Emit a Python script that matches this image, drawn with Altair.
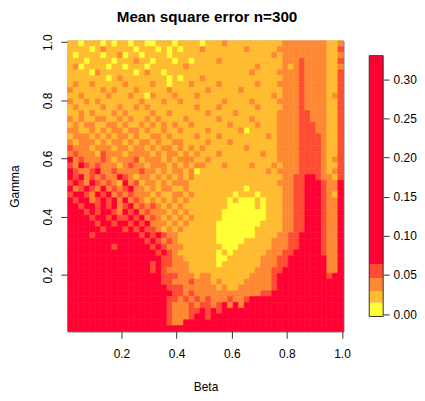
import altair as alt
import pandas as pd

# colour class of each cell (0 yellow ... 4 red)
# one string per row, from Gamma=1 (top) to Gamma=0, 50 cells along Beta
grid_rows = [
    "1101110101" "1011001110" "1111011121" "1111111112" "2222222112",
    "1111012111" "1101110101" "0111211111" "1121111122" "2222222113",
    "1011110112" "0110111101" "1111111111" "1111111212" "2222222112",
    "1110111101" "1121101110" "1101111211" "1111111112" "2232222113",
    "1201111011" "0111011111" "1211111111" "1111211112" "1232222112",
    "1111021111" "1101211011" "1111111111" "1112111122" "2232222113",
    "1111111012" "1111111101" "0111211111" "1111111112" "2232222113",
    "1211211111" "2111121101" "1121111211" "1111211122" "2232222113",
    "2111112121" "1121111121" "1111121111" "1211111112" "2232222113",
    "1121111211" "1211021112" "1112111111" "1111111212" "2232222123",
    "2112121111" "1112111211" "2111111121" "1112111122" "2232222113",
    "1211112112" "1121211111" "1112111211" "1111211112" "2232222113",
    "1121211121" "2111121121" "1111121111" "2111111122" "2233222113",
    "2121122112" "1211212111" "1211111211" "1112111122" "2233222113",
    "1212211221" "2112121212" "1121111112" "1111211122" "2233322113",
    "2211212122" "1221211211" "2111121111" "1201111122" "2233322113",
    "1222121212" "2121122121" "1112111211" "1111112122" "2233332113",
    "2122212122" "1212212112" "2111121112" "1111111122" "2233332113",
    "3222122212" "2122121221" "2121211111" "1121111122" "2233332113",
    "2322213222" "1222212122" "1212111211" "1111121122" "2233332113",
    "4232223212" "2231222121" "2221121111" "1111111122" "2233332123",
    "3243232221" "2322122212" "1212211121" "1112111212" "2233332113",
    "4322342232" "2223221212" "2120111111" "1111112122" "2233332123",
    "4342323224" "3212212121" "2121111111" "1111111112" "2334432213",
    "3432432321" "4231221212" "2211111111" "1111111122" "2334443224",
    "4234324232" "3422121221" "1211111111" "1101111112" "2334443224",
    "3443243423" "2322212112" "2121111111" "0111011112" "2334443214",
    "4344234342" "4232121212" "1211111110" "1000101112" "2334443224",
    "4434434342" "3423232121" "2111111110" "0000101112" "2334443224",
    "4443434432" "4342322212" "1211111100" "0000001112" "2334443224",
    "4444344343" "3434232121" "2121111100" "0000001112" "2334443224",
    "4444434434" "4343422212" "1211111000" "0000011112" "2334443224",
    "4444443444" "3434332121" "2111111000" "0000111112" "2334443224",
    "4444344444" "4443434322" "1111111000" "0000111122" "3344443224",
    "4444444444" "4444343232" "1111111000" "0011111222" "3344443224",
    "4444444434" "4444434322" "2111111100" "0111111222" "3344443224",
    "4444444444" "4444443432" "1111111010" "1111112223" "3444443224",
    "4444444444" "4444444332" "2111111001" "1111122233" "4444444224",
    "4444444444" "4444434332" "2211111011" "1111122233" "4444444224",
    "4444444444" "4444434322" "2211111111" "1111222334" "4444444224",
    "4444444444" "4444444333" "2221221111" "1112222344" "4444444344",
    "4444444444" "4444444332" "2232221211" "1122222344" "4444444444",
    "4444444444" "4444444433" "3222222121" "1222222344" "4444444444",
    "4444444444" "4444444443" "3232222222" "2222233444" "4444444444",
    "4444444444" "4444444433" "2323232223" "2234444444" "4444444444",
    "4444444444" "4444444432" "2232332342" "4244444444" "4444444444",
    "4444444444" "4444444432" "2233434344" "4444444444" "4444444444",
    "4444444444" "4444444432" "2234434444" "4444444444" "4444444444",
    "4444444444" "4444444432" "2444444444" "4444444444" "4444444444",
    "4444444444" "4444444444" "4444444444" "4444444444" "4444444444",
]
class_mse = [0.006, 0.022, 0.038, 0.055, 0.15]
band_breaks = [-0.003, 0.0145, 0.0295, 0.046, 0.064, 0.330]
band_colors = ["#FFFF33", "#FFBC30", "#FF8833", "#FF4D33", "#FF0033"]
axis_ticks = [0.2, 0.4, 0.6, 0.8, 1.0]
bar_ticks = [0.0, 0.05, 0.10, 0.15, 0.20, 0.25, 0.30]

step = 0.02
rows = []
for i, line in enumerate(grid_rows):
    assert len(line) == 50, (i, len(line))
    for j, c in enumerate(line):
        rows.append({
            "b0": 0.005 + step * j, "b1": 0.005 + step * (j + 1),
            "g0": 1.005 - step * (i + 1), "g1": 1.005 - step * i,
            "mse": class_mse[int(c)],
        })
df = pd.DataFrame(rows)

bands = pd.DataFrame({"lo": band_breaks[:-1], "hi": band_breaks[1:]})
bands["mid"] = (bands["lo"] + bands["hi"]) / 2
bar_frame = pd.DataFrame({"lo": [band_breaks[0]], "hi": [band_breaks[-1]]})

mse_scale = alt.Scale(type="threshold", domain=band_breaks[1:-1], range=band_colors)
unit = alt.Scale(domain=[0.005, 1.005], nice=False, zero=False)

heat = alt.Chart(df).mark_rect(strokeWidth=0.6).encode(
    x=alt.X("b0:Q", scale=unit,
            axis=alt.Axis(values=axis_ticks, format=".1f", title="Beta",
                          labelPadding=10, titlePadding=22)),
    x2="b1",
    y=alt.Y("g0:Q", scale=unit,
            axis=alt.Axis(values=axis_ticks, format=".1f", title="Gamma",
                          labelAngle=270, labelAlign="center", labelBaseline="bottom",
                          labelPadding=6, titlePadding=20)),
    y2="g1",
    fill=alt.Fill("mse:Q", scale=mse_scale, legend=None),
    stroke=alt.Stroke("mse:Q", scale=mse_scale, legend=None),
).properties(
    width=277, height=292,
    title=alt.TitleParams("Mean square error n=300", fontSize=15.3, fontWeight="bold",
                          anchor="middle", frame="group", offset=9, dx=1.5),
)

bar_scale = alt.Scale(domain=[-0.022, 0.349], nice=False, zero=False)
bar = alt.Chart(bands).mark_rect().encode(
    x=alt.value(0), x2=alt.value(14),
    y=alt.Y("lo:Q", scale=bar_scale,
            axis=alt.Axis(orient="right", values=bar_ticks, format=".2f", title=None,
                          tickSize=6, labelPadding=4)),
    y2="hi",
    fill=alt.Fill("mid:Q", scale=mse_scale, legend=None),
)
frame = alt.Chart(bar_frame).mark_rect(fillOpacity=0, stroke="#333", strokeWidth=1).encode(
    x=alt.value(0), x2=alt.value(14),
    y=alt.Y("lo:Q", scale=bar_scale),
    y2="hi",
)
colorbar = (bar + frame).properties(
    width=14, height=292, view=alt.ViewBackground(stroke="transparent"))

chart = alt.hconcat(heat, colorbar, spacing=17).properties(
    padding={"left": 0, "top": 0, "right": 0, "bottom": 0}
).configure(font="Liberation Sans").configure_view(
    stroke="#444", strokeWidth=1
).configure_axis(
    labelFontSize=12, titleFontSize=12, titleFontWeight="normal",
    labelColor="#000", titleColor="#000", tickColor="#333", tickSize=7,
    domain=False, grid=False,
).configure_title(color="#000", font="Liberation Sans")

chart.save("out.html", embed_options={"renderer": "svg", "actions": False})
